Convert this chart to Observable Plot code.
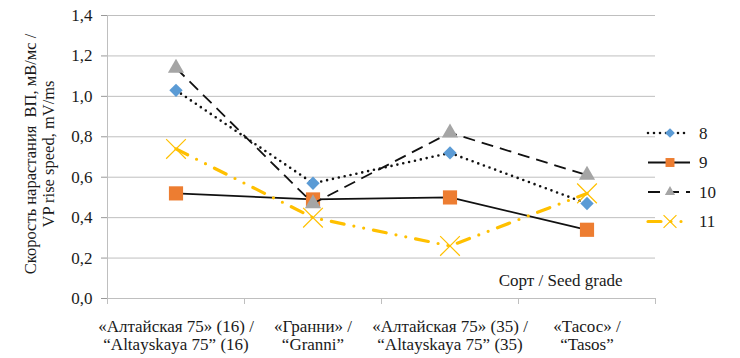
<!DOCTYPE html>
<html><head><meta charset="utf-8">
<script src="https://cdn.jsdelivr.net/npm/d3@7"></script>
<script src="https://cdn.jsdelivr.net/npm/@observablehq/plot@0.6"></script>
</head><body style="margin:0;background:#fff">
<div id="wrap" style="position:relative;width:740px;height:358px"><div id="chart"></div></div>
<script>
const categories = ["«Алтайская 75» (16) /\n“Altayskaya 75” (16)", "«Гранни» /\n“Granni”", "«Алтайская 75» (35) /\n“Altayskaya 75” (35)", "«Тасос» /\n“Tasos”"];
const seriesNames = ["8", "9", "10", "11"];
const series8 = [1.03, 0.57, 0.72, 0.47];
const series9 = [0.52, 0.49, 0.50, 0.34];
const series10 = [1.14, 0.47, 0.82, 0.61];
const series11 = [0.74, 0.40, 0.26, 0.52];
const yTicks = [0, 0.2, 0.4, 0.6, 0.8, 1.0, 1.2, 1.4];
const yTitle = "Скорость нарастания  ВП, мВ/мс /\nVP rise speed, mV/ms";
const xTitle = "Сорт / Seed grade";

const FONT = "Liberation Serif";
const styles = [
  {stroke:"#111", dash:"0,6", width:2.6, cap:"round", symbol:"diamond2", fill:"#5B9BD5", r:6},
  {stroke:"#111", dash:null, width:1.8, cap:"butt", symbol:"square", fill:"#ED7D31", r:8},
  {stroke:"#111", dash:"12,7", width:1.8, cap:"butt", symbol:"triangle", fill:"#A5A5A5", r:6},
  {stroke:"#FFC000", dash:"13,10,0,10,0,10", width:3.2, cap:"round", symbol:"times", fill:"none", r:9}
];
const allSeries = [series8, series9, series10, series11];
const data = allSeries.map((vals, s) => vals.map((v, i) => ({x: i + 0.5, y: v, s: seriesNames[s]})));

const marks = [
  Plot.gridY(yTicks, {stroke:"#bfbfbf", strokeOpacity:1}),
  Plot.ruleX([0], {stroke:"#bfbfbf"}),
  Plot.axisY({ticks: yTicks, tickFormat: d => d.toFixed(1).replace(".", ","), tickSize: 6, tickPadding: 9, stroke:"#999", fontSize: 17, fontFamily: FONT, label: null}),
  Plot.axisX({ticks:[0,1,2,3,4], tickFormat: () => "", tickSize: 6, stroke:"#bfbfbf", label: null}),
  Plot.axisX({ticks: categories.map((c, i) => i + 0.5), tickFormat: v => categories[Math.round(v - 0.5)], tickSize: 0, tickPadding: 20, fontSize: 17, fontFamily: FONT, lineHeight: 1.1, label: null}),
  Plot.text([yTitle], {frameAnchor:"left", textAnchor:"middle", rotate:-90, dx:-68, dy:-3, fontSize:16.5, fontFamily: FONT, lineAnchor:"middle", lineHeight:1.1}),
  Plot.text([xTitle], {frameAnchor:"bottom-right", textAnchor:"end", dx:-33, dy:-18, fontSize:17, fontFamily: FONT, lineAnchor:"middle"})
];
data.forEach((d, s) => {
  const st = styles[s];
  marks.push(Plot.line(d, {x:"x", y:"y", stroke: st.stroke, strokeWidth: st.width, strokeDasharray: st.dash, strokeLinecap: st.cap}));
  if (st.symbol === "times") marks.push(Plot.dot(d, {x:"x", y:"y", symbol:"times", r: st.r, stroke: st.stroke, strokeWidth: 1.2, fill:"none"}));
  else marks.push(Plot.dot(d, {x:"x", y:"y", symbol: st.symbol, r: st.r, fill: st.fill, stroke: "none"}));
});

const chart = Plot.plot({
  width: 740, height: 358,
  marginLeft: 107, marginRight: 85, marginTop: 15, marginBottom: 60,
  style: {fontFamily: FONT, color: "#1a1a1a", background: "#fff"},
  x: {type: "linear", domain: [0, 4]},
  y: {domain: [0, 1.4]},
  marks
});
document.getElementById("chart").appendChild(chart);

// legend (separate small svg laid over the right margin)
const lg = d3.create("svg").attr("width", 100).attr("height", 120)
  .style("position", "absolute").style("left", "640px").style("top", "118px");
styles.forEach((st, i) => {
  const g = lg.append("g").attr("transform", `translate(0,${15 + i * 29.5})`);
  g.append("line").attr("x1", 8).attr("x2", 50).attr("y1", 0).attr("y2", 0)
    .attr("stroke", st.stroke).attr("stroke-width", st.width)
    .attr("stroke-dasharray", st.dash).attr("stroke-linecap", st.cap);
  const sym = {diamond2: d3.symbolDiamond2, square: d3.symbolSquare, triangle: d3.symbolTriangle, times: d3.symbolTimes}[st.symbol];
  const size = {diamond2: 60, square: 80, triangle: 45, times: 110}[st.symbol];
  const p = g.append("path").attr("transform", "translate(30,0)").attr("d", d3.symbol(sym, size)());
  if (st.symbol === "times") p.attr("fill", "none").attr("stroke", st.stroke).attr("stroke-width", 1.2);
  else p.attr("fill", st.fill);
  g.append("text").attr("x", 59).attr("y", 0).attr("dy", "0.35em").attr("font-size", 17)
    .attr("font-family", FONT).attr("fill", "#1a1a1a").text(seriesNames[i]);
});
document.getElementById("wrap").appendChild(lg.node());
</script>
</body></html>
